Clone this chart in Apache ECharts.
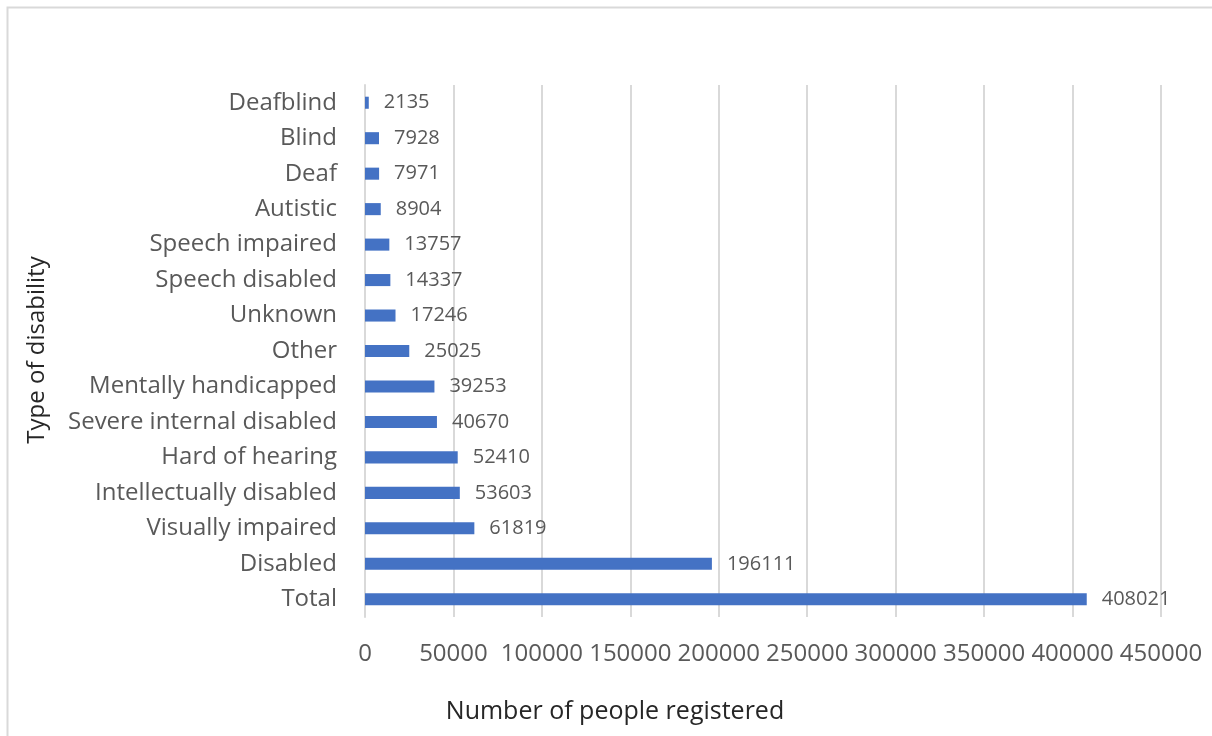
<!DOCTYPE html>
<html>
<head>
<meta charset="utf-8">
<script src="https://cdn.jsdelivr.net/npm/echarts@6/dist/echarts.min.js"></script>
<style>html,body{margin:0;padding:0;background:#fff;}#c{width:1212px;height:736px;}</style>
</head>
<body>
<div id="c"></div>
<script>
const categories = ["Total","Disabled","Visually impaired","Intellectually disabled","Hard of hearing","Severe internal disabled","Mentally handicapped","Other","Unknown","Speech disabled","Speech impaired","Autistic","Deaf","Blind","Deafblind"];
const values = [408021,196111,61819,53603,52410,40670,39253,25025,17246,14337,13757,8904,7971,7928,2135];
const xTicks = [0,50000,100000,150000,200000,250000,300000,350000,400000,450000];
const xTitle = "Number of people registered";
const yTitle = "Type of disability";

const FONT = "'Open Sans', sans-serif";
const chart = echarts.init(document.getElementById('c'), null, {renderer:'canvas'});
chart.setOption({
  animation:false,
  backgroundColor:'#ffffff',
  grid:{left:365, right:51, top:85, bottom:119, containLabel:false},
  xAxis:{
    type:'value', min:xTicks[0], max:xTicks[xTicks.length-1], interval:xTicks[1]-xTicks[0],
    axisLine:{show:false}, axisTick:{show:false},
    splitLine:{show:true, lineStyle:{color:'#d9d9d9', width:2}},
    axisLabel:{color:'#595959', fontSize:24, fontFamily:FONT, margin:25, formatter:function(v){return String(v);}}
  },
  yAxis:{
    type:'category', data:categories,
    axisLine:{show:true, lineStyle:{color:'#d9d9d9', width:2}},
    axisTick:{show:false},
    axisLabel:{color:'#595959', fontSize:24, fontFamily:FONT, margin:28}
  },
  series:[{
    type:'bar', data:values, barWidth:'34%',
    itemStyle:{color:'#4472C4'},
    label:{show:true, position:'right', distance:15, color:'#595959', fontSize:20, fontFamily:FONT}
  }],
  graphic:[
    {type:'rect', shape:{x:7.5,y:7.5,width:1230,height:760}, style:{fill:'none', stroke:'#d9d9d9', lineWidth:2}},
    {type:'text', x:615, y:712, style:{text:xTitle, fontSize:25, fontFamily:FONT, fill:'#262626', align:'center', verticalAlign:'middle'}},
    {type:'text', x:37, y:350, rotation:Math.PI/2, style:{text:yTitle, fontSize:24, fontFamily:FONT, fill:'#262626', align:'center', verticalAlign:'middle'}}
  ]
});
</script>
</body>
</html>
